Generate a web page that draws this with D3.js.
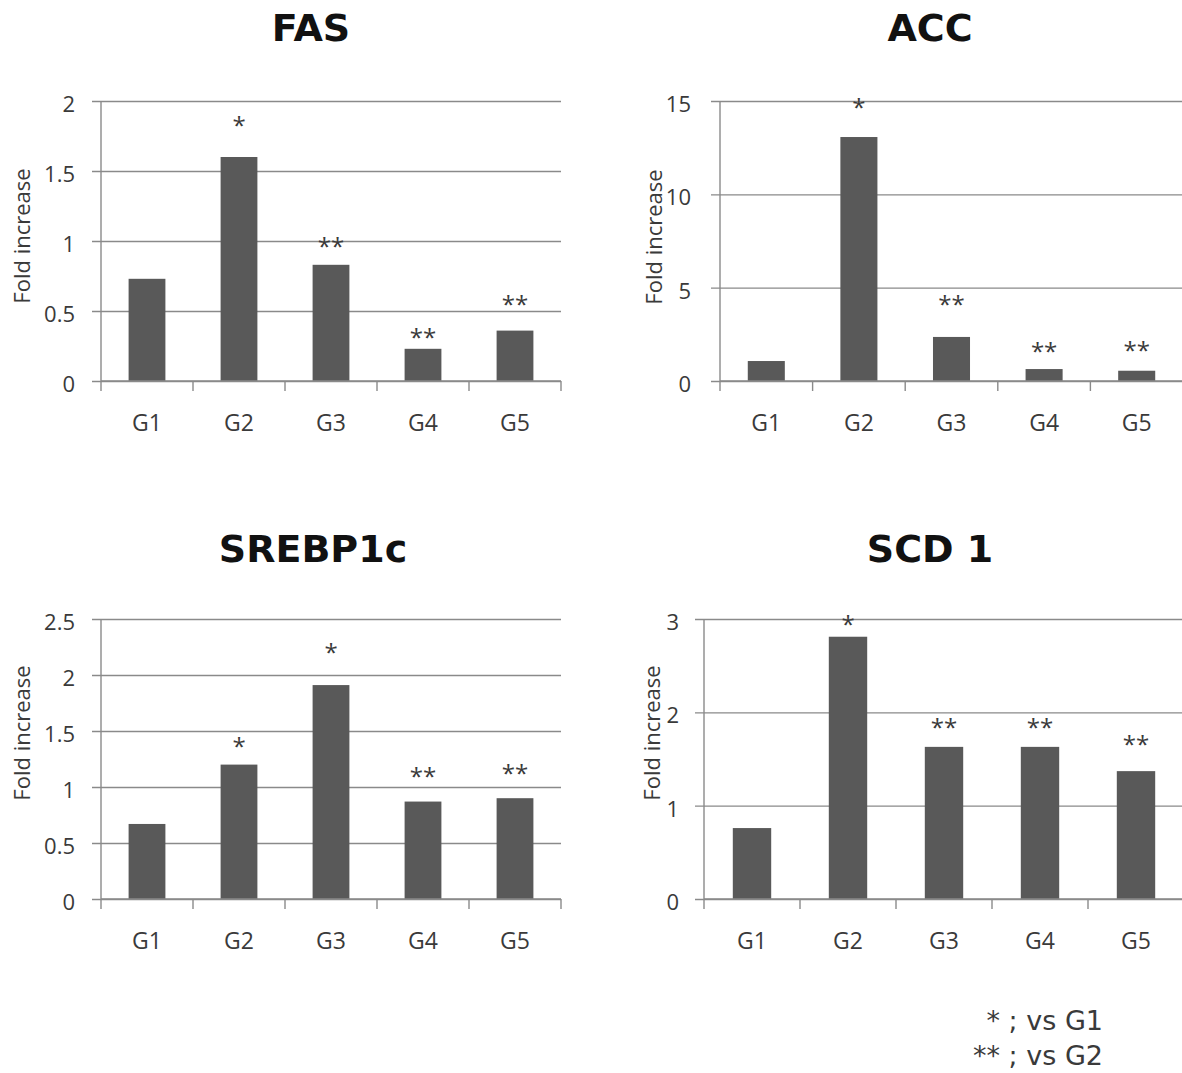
<!DOCTYPE html>
<html>
<head>
<meta charset="utf-8">
<script src="https://cdn.jsdelivr.net/npm/d3@7"></script>
<style>
  html, body { margin: 0; padding: 0; background: #ffffff; }
  svg { display: block; }
</style>
</head>
<body>
<svg id="chart" width="1182" height="1073"></svg>
<script>
// ---------- data ----------
const groups = ["G1", "G2", "G3", "G4", "G5"];

const fasValues   = [0.73, 1.60, 0.83, 0.23, 0.36];
const accValues   = [1.07, 13.07, 2.36, 0.64, 0.55];
const srebpValues = [0.67, 1.20, 1.91, 0.87, 0.90];
const scdValues   = [0.76, 2.81, 1.63, 1.63, 1.37];

const fasMarks   = ["", "*", "**", "**", "**"];
const accMarks   = ["", "*", "**", "**", "**"];
const srebpMarks = ["", "*", "*", "**", "**"];
const scdMarks   = ["", "*", "**", "**", "**"];

// height (in data units) at which each significance mark sits
const fasMarkAt   = [null, 1.86, 0.99, 0.34, 0.58];
const accMarkAt   = [null, 14.9, 4.34, 1.82, 1.87];
const srebpMarkAt = [null, 1.40, 2.24, 1.13, 1.16];
const scdMarkAt   = [null, 2.99, 1.89, 1.89, 1.70];

const fasTicks   = [0, 0.5, 1, 1.5, 2];
const accTicks   = [0, 5, 10, 15];
const srebpTicks = [0, 0.5, 1, 1.5, 2, 2.5];
const scdTicks   = [0, 1, 2, 3];

const titles = ["FAS", "ACC", "SREBP1c", "SCD 1"];
const yAxisLabel = "Fold increase";
const legendLines = ["* ; vs G1", "** ; vs G2"];

// ---------- drawing ----------
const svg = d3.select("#chart");
const BAR = "#595959";
const GRID = "#8a8a8a";
const TXT = "#3a3a3a";
const BODY_FONT = "'Open Sans', 'Noto Sans', sans-serif";
const TITLE_FONT = "'DejaVu Sans', sans-serif";

const panels = [
  { title: titles[0], values: fasValues, marks: fasMarks, markAt: fasMarkAt, ticks: fasTicks,
    x0: 101, x1: 561, yZero: 381, yTop: 101, titleX: 311, titleY: 41,
    tickLabelX: 75, ylabX: 22, ylabY: 236 },
  { title: titles[1], values: accValues, marks: accMarks, markAt: accMarkAt, ticks: accTicks,
    x0: 720, x1: 1183, yZero: 381, yTop: 101, titleX: 930, titleY: 41,
    tickLabelX: 691, ylabX: 654, ylabY: 237 },
  { title: titles[2], values: srebpValues, marks: srebpMarks, markAt: srebpMarkAt, ticks: srebpTicks,
    x0: 101, x1: 561, yZero: 899, yTop: 619, titleX: 313, titleY: 562,
    tickLabelX: 75, ylabX: 22, ylabY: 733 },
  { title: titles[3], values: scdValues, marks: scdMarks, markAt: scdMarkAt, ticks: scdTicks,
    x0: 704, x1: 1184, yZero: 899, yTop: 619, titleX: 930, titleY: 562,
    tickLabelX: 679, ylabX: 652, ylabY: 733 }
];

panels.forEach(p => {
  const g = svg.append("g");
  const yMax = p.ticks[p.ticks.length - 1];
  const y = d3.scaleLinear().domain([0, yMax]).range([p.yZero, p.yTop]);
  const cat = d3.scaleBand().domain(groups).range([p.x0, p.x1]).padding(0);
  const xb = d3.scaleBand().domain(groups).range([p.x0, p.x1])
    .paddingInner(0.6).paddingOuter(0.3);

  // title
  g.append("text")
    .attr("x", p.titleX).attr("y", p.titleY)
    .attr("text-anchor", "middle")
    .style("font-family", TITLE_FONT)
    .style("font-size", "38px").style("font-weight", "bold")
    .attr("fill", "#111")
    .text(p.title);

  // gridlines + left ticks (via d3 axis)
  const yAxis = d3.axisLeft(y).tickValues(p.ticks)
    .tickSize(-(p.x1 - p.x0)).tickSizeOuter(0).tickFormat("");
  const ga = g.append("g").attr("transform", `translate(${p.x0},0)`).call(yAxis);
  ga.select(".domain").remove();
  ga.selectAll(".tick line")
    .attr("x1", -9)
    .attr("stroke", GRID).attr("stroke-width", 1.4);

  // y tick labels
  g.selectAll(".ylab").data(p.ticks).join("text")
    .attr("x", p.tickLabelX).attr("y", d => y(d) + 11)
    .attr("text-anchor", "end")
    .style("font-family", BODY_FONT).style("font-size", "22px")
    .attr("fill", TXT)
    .text(d => d3.format("")(d));

  // bars
  g.selectAll(".bar").data(groups).join("rect")
    .attr("x", d => xb(d))
    .attr("width", xb.bandwidth())
    .attr("y", (d, i) => y(p.values[i]))
    .attr("height", (d, i) => y(0) - y(p.values[i]))
    .attr("fill", BAR);

  // y axis line
  g.append("line")
    .attr("x1", p.x0).attr("x2", p.x0)
    .attr("y1", y(yMax)).attr("y2", y(0))
    .attr("stroke", GRID).attr("stroke-width", 1.4);

  // x axis line
  g.append("line")
    .attr("x1", p.x0).attr("x2", p.x1)
    .attr("y1", y(0)).attr("y2", y(0))
    .attr("stroke", GRID).attr("stroke-width", 1.4);

  // x category boundary ticks
  const bounds = groups.map(d => cat(d)).concat([p.x1]);
  g.selectAll(".xt").data(bounds).join("line")
    .attr("x1", d => d).attr("x2", d => d)
    .attr("y1", y(0)).attr("y2", y(0) + 10)
    .attr("stroke", GRID).attr("stroke-width", 1.4);

  // x labels
  g.selectAll(".xlab").data(groups).join("text")
    .attr("x", d => cat(d) + cat.bandwidth() / 2)
    .attr("y", y(0) + 50)
    .attr("text-anchor", "middle")
    .style("font-family", BODY_FONT).style("font-size", "23px")
    .attr("fill", TXT)
    .text(d => d);

  // significance marks
  g.selectAll(".mark").data(groups).join("text")
    .attr("x", d => xb(d) + xb.bandwidth() / 2)
    .attr("y", (d, i) => p.markAt[i] == null ? 0 : y(p.markAt[i]) + 13)
    .attr("text-anchor", "middle")
    .style("font-family", BODY_FONT).style("font-size", "24px")
    .attr("fill", TXT)
    .text((d, i) => p.marks[i]);

  // y-axis title
  g.append("text")
    .attr("transform", `translate(${p.ylabX},${p.ylabY}) rotate(-90)`)
    .attr("text-anchor", "middle")
    .attr("dy", "0.35em")
    .style("font-family", BODY_FONT).style("font-size", "22px")
    .attr("fill", TXT)
    .text(yAxisLabel);
});

// legend
svg.selectAll(".legend").data(legendLines).join("text")
  .attr("x", 1103)
  .attr("y", (d, i) => 1030 + i * 35)
  .attr("text-anchor", "end")
  .style("font-family", TITLE_FONT).style("font-size", "27px")
  .attr("fill", TXT)
  .text(d => d);
</script>
</body>
</html>
